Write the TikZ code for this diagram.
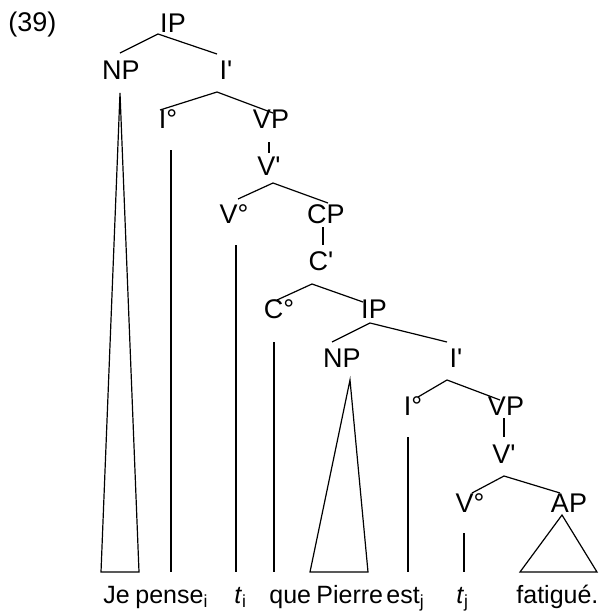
\documentclass[tikz,border=0pt]{standalone}
\usepackage{fontspec}
\setmainfont{Liberation Sans}
\begin{document}
\begin{tikzpicture}[x=0.5pt,y=-0.5pt,
  lab/.style={inner sep=0pt,anchor=base,font=\fontsize{13.5}{16}\selectfont},
  word/.style={inner sep=0pt,anchor=base west,font=\fontsize{12.5}{15}\selectfont},
  branch/.style={line width=0.6pt}]
\useasboundingbox (0,0) rectangle (607,616);
% labels
\node[word,font=\fontsize{13.5}{16}\selectfont] (ex) at (8,31) {(39)};
\node[lab] (ipA) at (173,32) {IP};
\node[lab] (npA) at (121,79) {NP};
\node[lab] (ibA) at (226,79) {I\textquotesingle};
\node[lab] (i0A) at (168,128) {I°};
\node[lab] (vpA) at (271,128) {VP};
\node[lab] (vbA) at (269,175) {V\textquotesingle};
\node[lab] (v0A) at (234,223) {V°};
\node[lab] (cp) at (326,223) {CP};
\node[lab] (cb) at (321,270) {C\textquotesingle};
\node[lab] (c0) at (279,318) {C°};
\node[lab] (ipB) at (374,318) {IP};
\node[lab] (npB) at (342,367) {NP};
\node[lab] (ibB) at (456,367) {I\textquotesingle};
\node[lab] (i0B) at (413,415) {I°};
\node[lab] (vpB) at (506,415) {VP};
\node[lab] (vbB) at (504,463) {V\textquotesingle};
\node[lab] (v0B) at (470,512) {V°};
\node[lab] (ap) at (569,512) {AP};
% words
\node[word] (wJe) at (103,603) {Je};
\node[word] (wPense) at (135,603) {pense\textsubscript{i}};
\node[word] (wTi) at (234,603) {\textit{t}\textsubscript{i}};
\node[word] (wQue) at (269,603) {que};
\node[word] (wPierre) at (316,603) {Pierre};
\node[word] (wEst) at (386,603) {est\textsubscript{j}};
\node[word] (wTj) at (456,603) {\textit{t}\textsubscript{j}};
\node[word] (wFat) at (516,603) {fatigué.};
% branch points
\coordinate (a1) at (158,34);  \coordinate (a1l) at (120,53); \coordinate (a1r) at (217,54);
\coordinate (a2) at (217,92);  \coordinate (a2l) at (160,110); \coordinate (a2r) at (273,113);
\coordinate (u1) at (269,142); \coordinate (u1b) at (269,153);
\coordinate (a3) at (273,183); \coordinate (a3l) at (238,199); \coordinate (a3r) at (328,203);
\coordinate (u2) at (323,227); \coordinate (u2b) at (323,245);
\coordinate (a4) at (312,284); \coordinate (a4l) at (277,300); \coordinate (a4r) at (363,302);
\coordinate (a5) at (370,323); \coordinate (a5l) at (332,342); \coordinate (a5r) at (447,342);
\coordinate (a6) at (447,380); \coordinate (a6l) at (418,397); \coordinate (a6r) at (500,400);
\coordinate (u3) at (504,418); \coordinate (u3b) at (504,437);
\coordinate (a7) at (504,476); \coordinate (a7l) at (472,493); \coordinate (a7r) at (560,493);
\draw[branch] (a1l) -- (a1) -- (a1r);
\draw[branch] (a2l) -- (a2) -- (a2r);
\draw[branch] (u1) -- (u1b);
\draw[branch] (a3l) -- (a3) -- (a3r);
\draw[branch] (u2) -- (u2b);
\draw[branch] (a4l) -- (a4) -- (a4r);
\draw[branch] (a5l) -- (a5) -- (a5r);
\draw[branch] (a6l) -- (a6) -- (a6r);
\draw[branch] (u3) -- (u3b);
\draw[branch] (a7l) -- (a7) -- (a7r);
% triangles
\coordinate (t1) at (120,93); \coordinate (t1l) at (101,572); \coordinate (t1r) at (139,572);
\coordinate (t2) at (350,380); \coordinate (t2l) at (310,572); \coordinate (t2r) at (368,572);
\coordinate (t3) at (562,515); \coordinate (t3l) at (520,572); \coordinate (t3r) at (597,572);
\draw[branch] (t1) -- (t1l) -- (t1r) -- cycle;
\draw[branch] (t2) -- (t2l) -- (t2r) -- cycle;
\draw[branch] (t3) -- (t3l) -- (t3r) -- cycle;
% vertical lines
\coordinate (v1) at (171,150); \coordinate (v1b) at (171,572);
\coordinate (v2) at (236,245); \coordinate (v2b) at (236,572);
\coordinate (v3) at (274,342); \coordinate (v3b) at (274,572);
\coordinate (v4) at (408,437); \coordinate (v4b) at (408,572);
\coordinate (v5) at (464,533); \coordinate (v5b) at (464,572);
\draw[branch] (v1) -- (v1b);
\draw[branch] (v2) -- (v2b);
\draw[branch] (v3) -- (v3b);
\draw[branch] (v4) -- (v4b);
\draw[branch] (v5) -- (v5b);
\end{tikzpicture}
\end{document}
